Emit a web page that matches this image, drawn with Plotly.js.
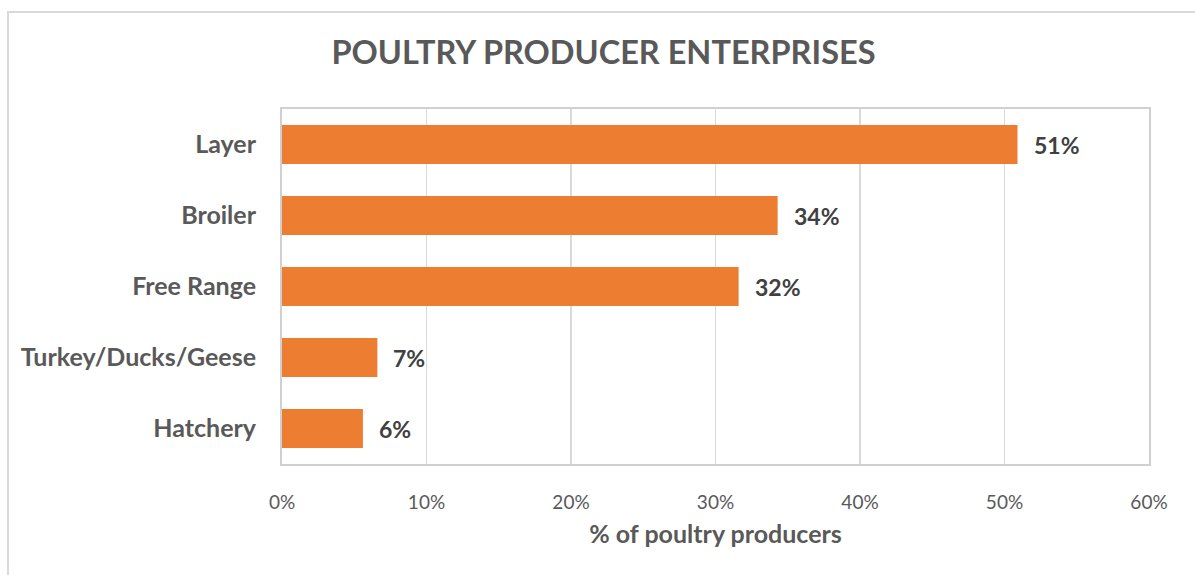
<!DOCTYPE html>
<html>
<head>
<meta charset="utf-8">
<script src="https://cdn.plot.ly/plotly-3.0.1.min.js"></script>
<style>
  html, body { margin: 0; padding: 0; background: #fff; }
  #wrap { position: relative; width: 1195px; height: 575px; overflow: hidden; }
  #chart { position: absolute; left: 0; top: 0; width: 1195px; height: 575px; }
  #frame { position: absolute; left: 7px; top: 11px; width: 1300px; height: 700px;
           border-left: 2px solid #d9d9d9; border-top: 2px solid #d9d9d9; pointer-events: none; }
</style>
</head>
<body>
<div id="wrap">
  <div id="chart"></div>
  <div id="frame"></div>
</div>
<script>
const categories = ["Layer", "Broiler", "Free Range", "Turkey/Ducks/Geese", "Hatchery"];
const shares = [0.509, 0.343, 0.316, 0.066, 0.056];
const xTickValues = [0, 0.1, 0.2, 0.3, 0.4, 0.5, 0.6];
const xTickLabels = ["0%", "10%", "20%", "30%", "40%", "50%", "60%"];

const FONT = "Lato, 'Open Sans', sans-serif";

const trace = {
  type: "bar",
  orientation: "h",
  x: shares,
  y: categories,
  marker: { color: "#ED7D31", line: { width: 0 } },
  hoverinfo: "x+y"
};

const annotations = categories.map((c, i) => ({
  x: shares[i],
  y: c,
  xref: "x",
  yref: "y",
  text: Math.round(shares[i] * 100) + "%",
  showarrow: false,
  xanchor: "left",
  yanchor: "middle",
  xshift: 14,
  font: { family: FONT, size: 23, color: "#404040", weight: "bold" }
}));

const layout = {
  width: 1195,
  height: 575,
  margin: { l: 282, r: 46, t: 109, b: 111 },
  paper_bgcolor: "#ffffff",
  plot_bgcolor: "#ffffff",
  bargap: 0.45,
  showlegend: false,
  title: {
    text: "<b>POULTRY PRODUCER ENTERPRISES</b>",
    x: 0.505,
    xanchor: "center",
    y: 0.908,
    yanchor: "middle",
    font: { family: FONT, size: 32.5, color: "#595959" }
  },
  xaxis: {
    range: [0, 0.6],
    tickvals: xTickValues,
    ticktext: xTickLabels,
    showgrid: true,
    gridcolor: "#d9d9d9",
    gridwidth: 1.5,
    zeroline: false,
    showline: true,
    linecolor: "#d0d0d0",
    linewidth: 2,
    mirror: true,
    ticks: "",
    ticklabelstandoff: 20,
    tickfont: { family: FONT, size: 19, color: "#595959" },
    title: {
      text: "<b>% of poultry producers</b>",
      standoff: 14,
      font: { family: FONT, size: 25, color: "#595959" }
    },
    fixedrange: true
  },
  yaxis: {
    type: "category",
    categoryorder: "array",
    categoryarray: categories,
    autorange: "reversed",
    showgrid: false,
    zeroline: false,
    showline: true,
    linecolor: "#d0d0d0",
    linewidth: 2,
    mirror: true,
    ticks: "",
    ticklabelstandoff: 19,
    tickfont: { family: FONT, size: 25, color: "#595959", weight: "bold" },
    fixedrange: true
  },
  annotations: annotations
};

Plotly.newPlot("chart", [trace], layout, { displayModeBar: false, staticPlot: true });
</script>
</body>
</html>
